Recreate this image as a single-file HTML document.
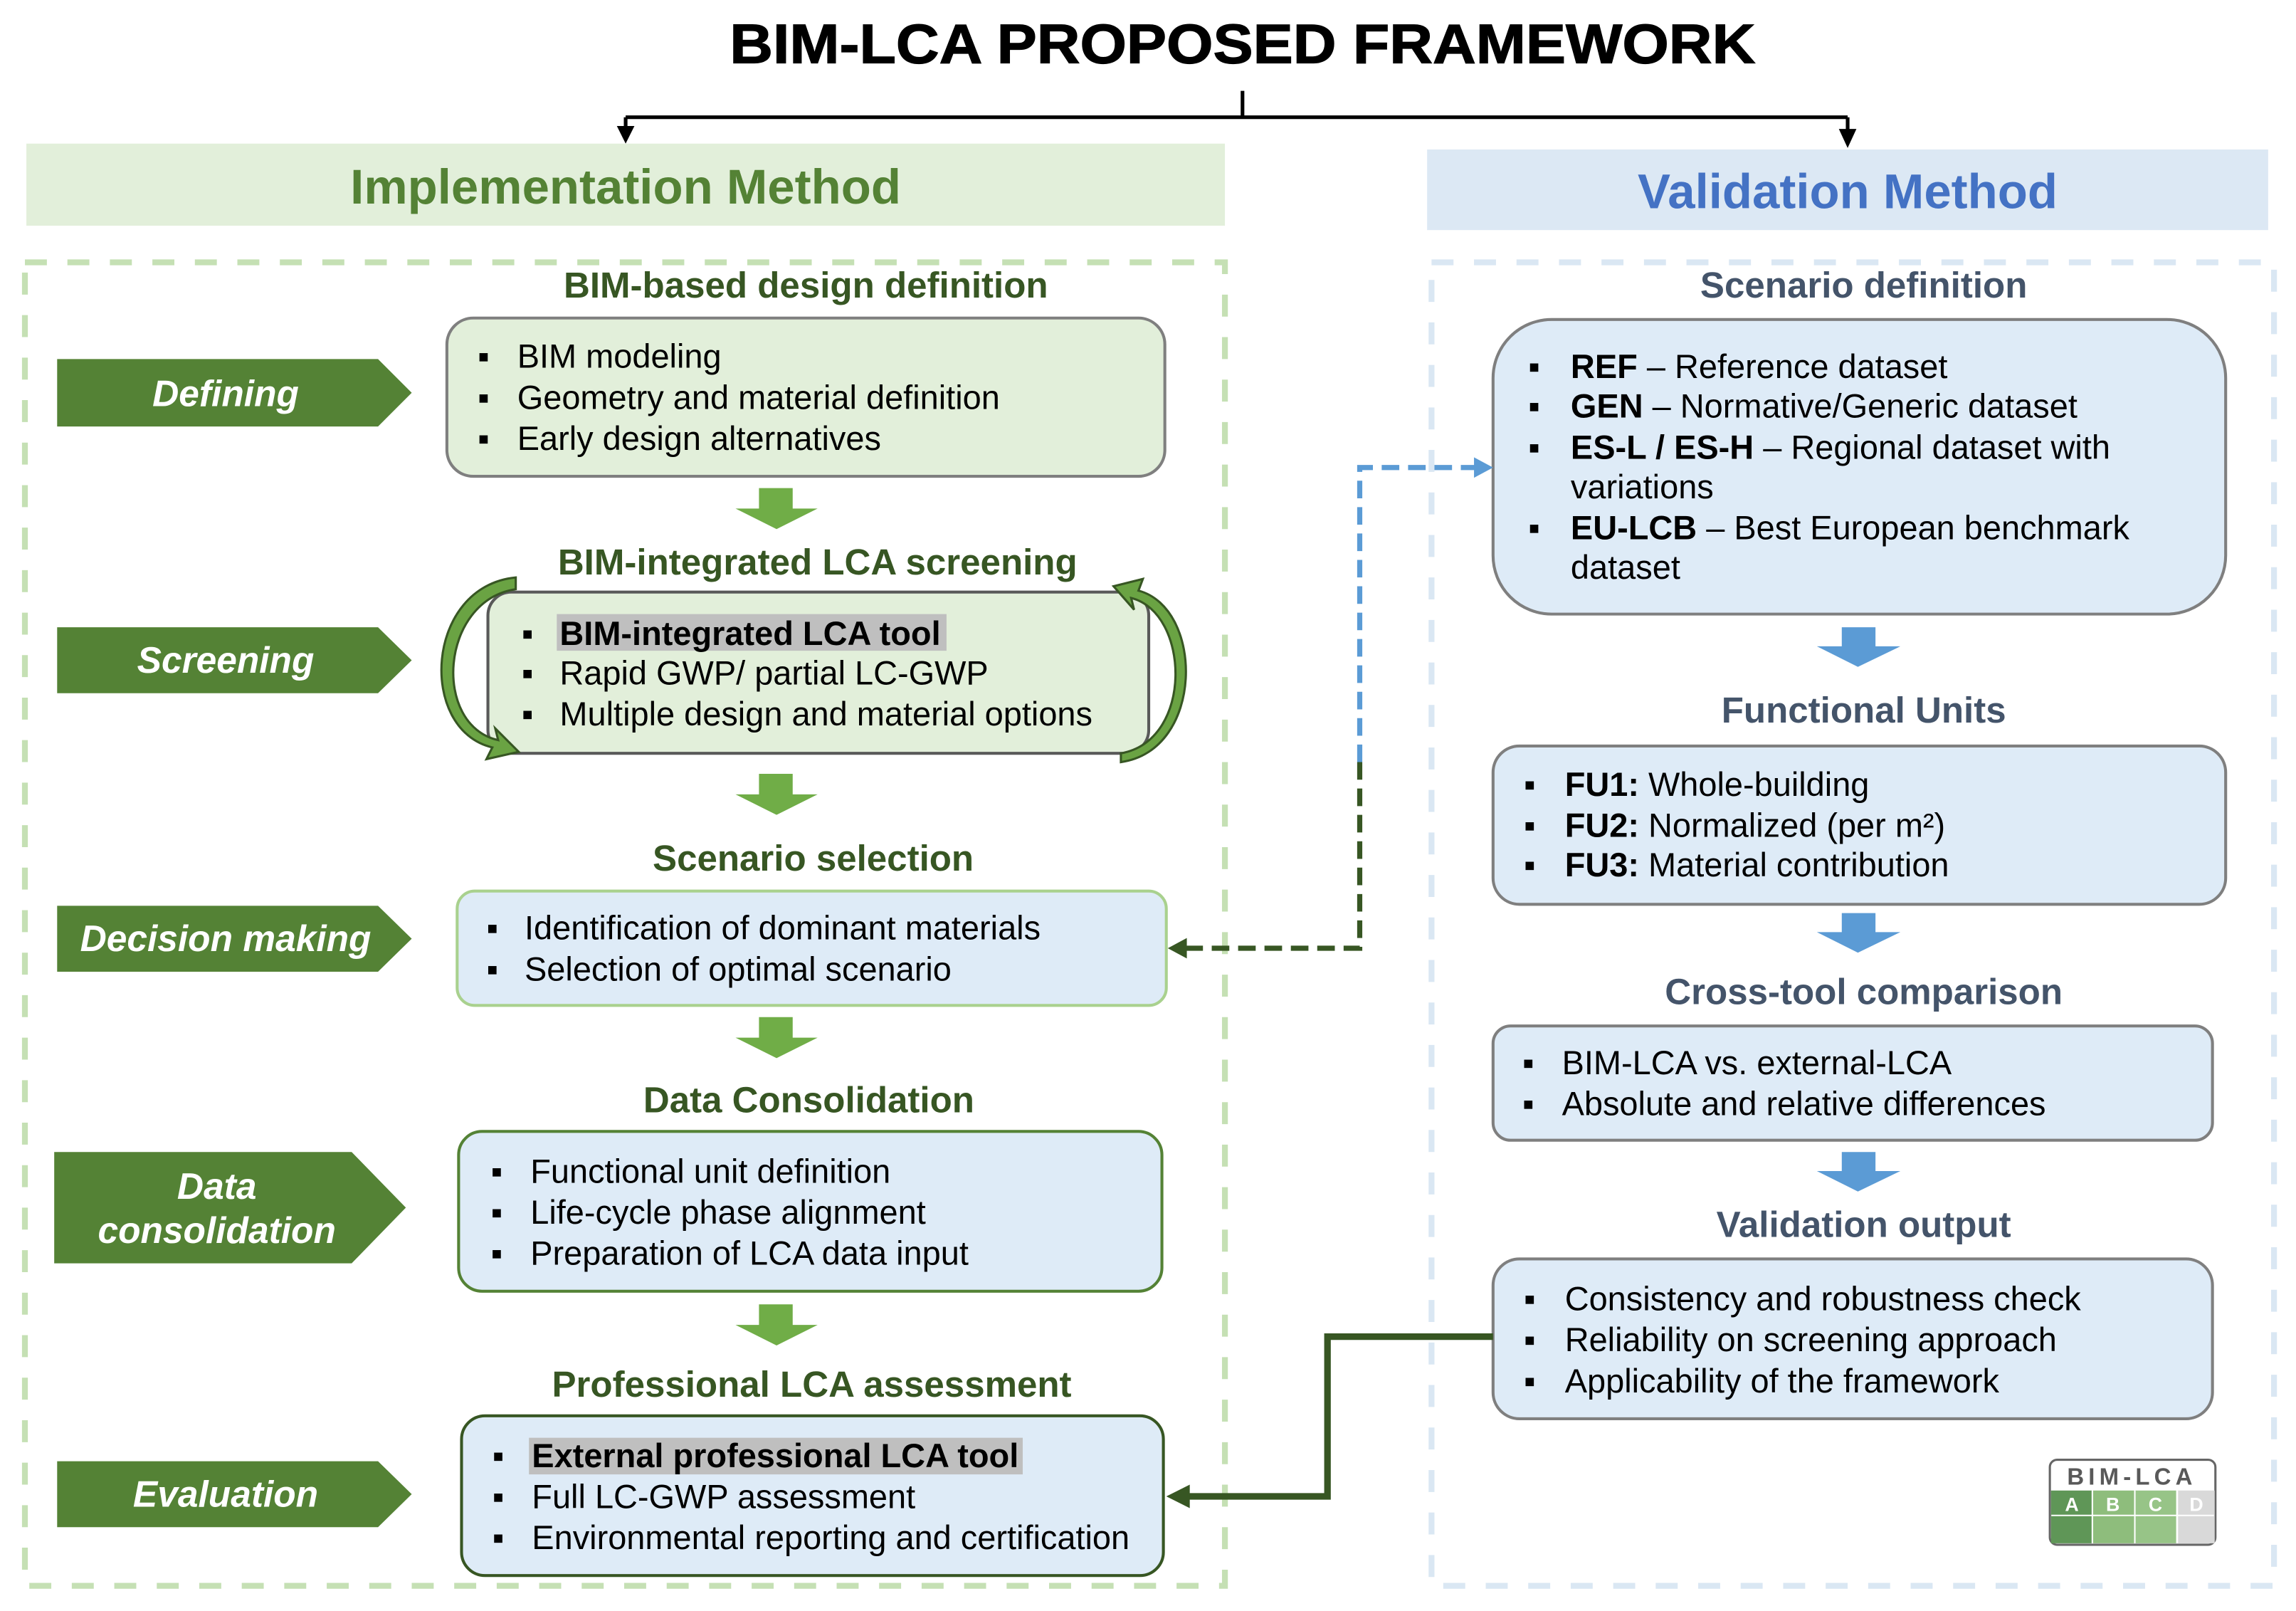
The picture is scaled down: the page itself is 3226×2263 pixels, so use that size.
<!DOCTYPE html>
<html><head><meta charset="utf-8"><style>
html,body{margin:0;padding:0;background:#fff}
svg{display:block}
text{font-family:"Liberation Sans",Arial,sans-serif}
.h{font-weight:bold;font-size:24.8px;fill:#375623;text-anchor:middle}
.hr{font-weight:bold;font-size:24.8px;fill:#44546a;text-anchor:middle}
.t{font-size:22.8px;fill:#000}
.b{font-weight:bold}
.lab{font-weight:bold;font-style:italic;font-size:25px;fill:#fff;text-anchor:middle}
</style></head><body>
<svg width="3226" height="2263" viewBox="0 0 1567 1099.2" preserveAspectRatio="none" xmlns="http://www.w3.org/2000/svg">
<!-- title -->
<text x="848" y="43" text-anchor="middle" font-weight="bold" font-size="38" fill="#000" textLength="700" lengthAdjust="spacingAndGlyphs" stroke="#000" stroke-width="0.6">BIM-LCA PROPOSED FRAMEWORK</text>
<path d="M848,62 V80 M427,80 H1261 M427,80 V88 M1261,80 V90" stroke="#000" stroke-width="2.5" fill="none"/>
<path d="M421,86 L433,86 L427,98z M1255,88 L1267,88 L1261,101z" fill="#000"/>
<!-- banners -->
<rect x="18" y="98" width="818" height="56" fill="#e2efda"/>
<text x="427" y="139" text-anchor="middle" font-weight="bold" font-size="33.5" fill="#548235">Implementation Method</text>
<rect x="974" y="102" width="574" height="55" fill="#dce8f4"/>
<text x="1261" y="142" text-anchor="middle" font-weight="bold" font-size="33.5" fill="#4472c4">Validation Method</text>
<!-- dashed containers -->
<rect x="17" y="179" width="819" height="903" fill="none" stroke="#c5e0b4" stroke-width="4" stroke-dasharray="15 14"/>
<rect x="977" y="179" width="575" height="903" fill="none" stroke="#dae7f3" stroke-width="4" stroke-dasharray="15 14"/>
<!-- left headings -->
<text class="h" x="550" y="203">BIM-based design definition</text>
<text class="h" x="558" y="392">BIM-integrated LCA screening</text>
<text class="h" x="555" y="594">Scenario selection</text>
<text class="h" x="552" y="759">Data Consolidation</text>
<text class="h" x="554" y="953">Professional LCA assessment</text>
<!-- chevrons -->
<g fill="#548235">
<path d="M39,245 H258 L281,268 L258,291 H39z"/>
<path d="M39,428 H258 L281,450.5 L258,473 H39z"/>
<path d="M39,618 H258 L281,640.5 L258,663 H39z"/>
<path d="M37,786 H240 L277,824 L240,862 H37z"/>
<path d="M39,997 H258 L281,1019.5 L258,1042 H39z"/>
</g>
<text class="lab" x="154" y="277">Defining</text>
<text class="lab" x="154" y="459">Screening</text>
<text class="lab" x="154" y="649">Decision making</text>
<text class="lab" x="148" y="818">Data</text>
<text class="lab" x="148" y="848">consolidation</text>
<text class="lab" x="154" y="1028">Evaluation</text>
<!-- left boxes -->
<rect x="305" y="217" width="490" height="108" rx="18" fill="#e2efda" stroke="#7f7f7f" stroke-width="2"/>
<rect x="333" y="404" width="451" height="110" rx="16" fill="#e2efda" stroke="#595959" stroke-width="2"/>
<rect x="312" y="608" width="484" height="78" rx="12" fill="#deebf7" stroke="#a9d18e" stroke-width="2"/>
<rect x="313" y="772" width="480" height="109" rx="16" fill="#deebf7" stroke="#548235" stroke-width="2"/>
<rect x="315" y="966" width="479" height="109" rx="16" fill="#deebf7" stroke="#375623" stroke-width="2"/>
<!-- loop arrows -->
<g fill="#6aa343" stroke="#375623" stroke-width="1.5">
<path d="M352,402 C300,410 295,495 340,505 L338,497 L354,513 L332,518 L336,510 C285,498 290,400 352,394z"/>
<path d="M765,514 C815,505 812,418 772,408 L774,416 L760,400 L780,395 L777,403 C822,415 822,512 765,520z"/>
</g>
<text class="t"><tspan x="326" y="251">▪</tspan><tspan x="353">BIM modeling</tspan></text>
<text class="t"><tspan x="326" y="279">▪</tspan><tspan x="353">Geometry and material definition</tspan></text>
<text class="t"><tspan x="326" y="307">▪</tspan><tspan x="353">Early design alternatives</tspan></text>
<rect x="380" y="419" width="266" height="25" fill="#bfbfbf"/>
<text class="t"><tspan x="356" y="440">▪</tspan><tspan x="382" class="b">BIM-integrated LCA tool</tspan></text>
<text class="t"><tspan x="356" y="467">▪</tspan><tspan x="382">Rapid GWP/ partial LC-GWP</tspan></text>
<text class="t"><tspan x="356" y="495">▪</tspan><tspan x="382">Multiple design and material options</tspan></text>
<text class="t"><tspan x="332" y="641">▪</tspan><tspan x="358">Identification of dominant materials</tspan></text>
<text class="t"><tspan x="332" y="669">▪</tspan><tspan x="358">Selection of optimal scenario</tspan></text>
<text class="t"><tspan x="335" y="807">▪</tspan><tspan x="362">Functional unit definition</tspan></text>
<text class="t"><tspan x="335" y="835">▪</tspan><tspan x="362">Life-cycle phase alignment</tspan></text>
<text class="t"><tspan x="335" y="863">▪</tspan><tspan x="362">Preparation of LCA data input</tspan></text>
<rect x="361" y="981" width="337" height="25" fill="#bfbfbf"/>
<text class="t"><tspan x="336" y="1001">▪</tspan><tspan x="363" class="b">External professional LCA tool</tspan></text>
<text class="t"><tspan x="336" y="1029">▪</tspan><tspan x="363">Full LC-GWP assessment</tspan></text>
<text class="t"><tspan x="336" y="1057">▪</tspan><tspan x="363">Environmental reporting and certification</tspan></text>
<!-- green down arrows -->
<g fill="#70ad47">
<path d="M518,333 H541 V347 H558 L530,361 L502,347 H518z"/>
<path d="M518,528 H541 V542 H558 L530,556 L502,542 H518z"/>
<path d="M518,694 H541 V708 H558 L530,722 L502,708 H518z"/>
<path d="M518,890 H541 V904 H558 L530,918 L502,904 H518z"/>
</g>
<!-- right -->
<text class="hr" x="1272" y="203">Scenario definition</text>
<text class="hr" x="1272" y="493">Functional Units</text>
<text class="hr" x="1272" y="685">Cross-tool comparison</text>
<text class="hr" x="1272" y="844">Validation output</text>
<g fill="#deebf7" stroke="#7f7f7f" stroke-width="2">
<rect x="1019" y="218" width="500" height="201" rx="40"/>
<rect x="1019" y="509" width="500" height="108" rx="18"/>
<rect x="1019" y="700" width="491" height="78" rx="12"/>
<rect x="1019" y="859" width="491" height="109" rx="18"/>
</g>
<text class="t"><tspan x="1043" y="258">▪</tspan><tspan x="1072" class="b">REF</tspan><tspan> – Reference dataset</tspan></text>
<text class="t"><tspan x="1043" y="285">▪</tspan><tspan x="1072" class="b">GEN</tspan><tspan> – Normative/Generic dataset</tspan></text>
<text class="t"><tspan x="1043" y="313">▪</tspan><tspan x="1072" class="b">ES-L / ES-H</tspan><tspan> – Regional dataset with</tspan></text>
<text class="t" x="1072" y="340">variations</text>
<text class="t"><tspan x="1043" y="368">▪</tspan><tspan x="1072" class="b">EU-LCB</tspan><tspan> – Best European benchmark</tspan></text>
<text class="t" x="1072" y="395">dataset</text>
<text class="t"><tspan x="1040" y="543">▪</tspan><tspan x="1068" class="b">FU1:</tspan><tspan> Whole-building</tspan></text>
<text class="t"><tspan x="1040" y="571">▪</tspan><tspan x="1068" class="b">FU2:</tspan><tspan> Normalized (per m²)</tspan></text>
<text class="t"><tspan x="1040" y="598">▪</tspan><tspan x="1068" class="b">FU3:</tspan><tspan> Material contribution</tspan></text>
<text class="t"><tspan x="1039" y="733">▪</tspan><tspan x="1066">BIM-LCA vs. external-LCA</tspan></text>
<text class="t"><tspan x="1039" y="761">▪</tspan><tspan x="1066">Absolute and relative differences</tspan></text>
<text class="t"><tspan x="1040" y="894">▪</tspan><tspan x="1068">Consistency and robustness check</tspan></text>
<text class="t"><tspan x="1040" y="922">▪</tspan><tspan x="1068">Reliability on screening approach</tspan></text>
<text class="t"><tspan x="1040" y="950">▪</tspan><tspan x="1068">Applicability of the framework</tspan></text>
<g fill="#5b9bd5">
<path d="M1257,428 H1280 V441 H1297 L1268,455 L1240,441 H1257z"/>
<path d="M1257,623 H1280 V636 H1297 L1268,650 L1240,636 H1257z"/>
<path d="M1257,786 H1280 V799 H1297 L1268,813 L1240,799 H1257z"/>
</g>
<!-- connectors -->
<path d="M928,520 V319 H1008" stroke="#5b9bd5" stroke-width="3.5" fill="none" stroke-dasharray="12 6"/>
<path d="M1006,312 L1019,319 L1006,326z" fill="#5b9bd5"/>
<path d="M928,520 V647 H808" stroke="#375623" stroke-width="3.5" fill="none" stroke-dasharray="12 6"/>
<path d="M810,640 L797,647 L810,654z" fill="#375623"/>
<path d="M1019,912 H906 V1021 H810" stroke="#375623" stroke-width="4.5" fill="none"/>
<path d="M812,1013 L796,1021 L812,1029z" fill="#375623"/>
<!-- logo -->
<g>
<rect x="1399" y="996" width="113" height="58" rx="5" fill="#fff" stroke="#666" stroke-width="1.5"/>
<text x="1455" y="1013" text-anchor="middle" font-size="16" font-weight="bold" fill="#595959" letter-spacing="3">BIM-LCA</text>
<rect x="1399.8" y="1017" width="28" height="36" fill="#5f9657"/>
<rect x="1428.5" y="1017" width="28" height="36" fill="#8ebd7c"/>
<rect x="1457.2" y="1017" width="28" height="36" fill="#97c487"/>
<rect x="1486" y="1017" width="25.5" height="36" fill="#d9d9d9"/>
<path d="M1400,1034 H1511 M1428,1017 V1053 M1457,1017 V1053 M1486,1017 V1053" stroke="#fff" stroke-width="1"/>
<g font-size="13" font-weight="bold" fill="#fff" text-anchor="middle">
<text x="1414" y="1031">A</text><text x="1442" y="1031">B</text><text x="1471" y="1031">C</text><text x="1499" y="1031">D</text>
</g>
</g>
</svg>
</body></html>
